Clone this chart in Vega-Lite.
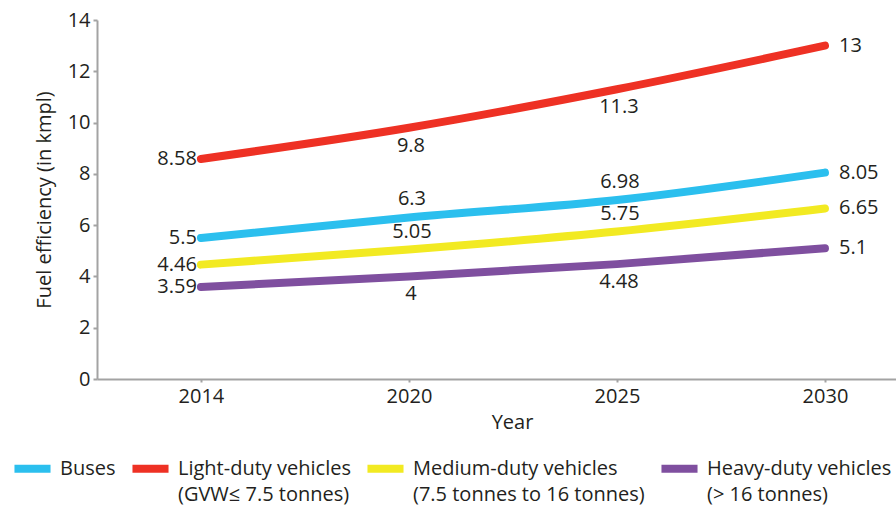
{
  "$schema": "https://vega.github.io/schema/vega-lite/v6.json",
  "width": 799,
  "height": 359,
  "autosize": {"type": "none"},
  "padding": {"left": 97, "top": 20, "right": 0, "bottom": 130},
  "background": "white",
  "config": {
    "view": {"stroke": null},
    "font": "Open Sans",
    "axis": {"grid": false, "domainColor": "#a3a3a3", "tickColor": "#a3a3a3", "domainWidth": 2, "tickWidth": 2, "tickSize": 4, "labelFontSize": 20, "titleFontSize": 20, "labelColor": "#231f20", "titleColor": "#231f20", "titleFontWeight": "normal", "labelFont": "Open Sans", "titleFont": "Open Sans"}
  },
  "data": {"values": [
    {"year": "2014", "series": "Buses", "value": 5.5},
    {"year": "2020", "series": "Buses", "value": 6.3},
    {"year": "2025", "series": "Buses", "value": 6.98},
    {"year": "2030", "series": "Buses", "value": 8.05},
    {"year": "2014", "series": "Light-duty vehicles (GVW≤ 7.5 tonnes)", "value": 8.58},
    {"year": "2020", "series": "Light-duty vehicles (GVW≤ 7.5 tonnes)", "value": 9.8},
    {"year": "2025", "series": "Light-duty vehicles (GVW≤ 7.5 tonnes)", "value": 11.3},
    {"year": "2030", "series": "Light-duty vehicles (GVW≤ 7.5 tonnes)", "value": 13},
    {"year": "2014", "series": "Medium-duty vehicles (7.5 tonnes to 16 tonnes)", "value": 4.46},
    {"year": "2020", "series": "Medium-duty vehicles (7.5 tonnes to 16 tonnes)", "value": 5.05},
    {"year": "2025", "series": "Medium-duty vehicles (7.5 tonnes to 16 tonnes)", "value": 5.75},
    {"year": "2030", "series": "Medium-duty vehicles (7.5 tonnes to 16 tonnes)", "value": 6.65},
    {"year": "2014", "series": "Heavy-duty vehicles (> 16 tonnes)", "value": 3.59},
    {"year": "2020", "series": "Heavy-duty vehicles (> 16 tonnes)", "value": 4},
    {"year": "2025", "series": "Heavy-duty vehicles (> 16 tonnes)", "value": 4.48},
    {"year": "2030", "series": "Heavy-duty vehicles (> 16 tonnes)", "value": 5.1}
  ]},
  "encoding": {
    "x": {"field": "year", "type": "ordinal", "scale": {"type": "point", "padding": 0.4206, "align": 0.594},
      "axis": {"labelAngle": 0, "title": "Year", "labelPadding": 4, "titlePadding": 6, "titleX": 415, "tickSize": 3}},
    "y": {"field": "value", "type": "quantitative", "scale": {"domain": [0, 14], "nice": false},
      "axis": {"values": [0, 2, 4, 6, 8, 10, 12, 14], "title": "Fuel efficiency (in kmpl)", "labelPadding": 3, "titlePadding": 13}}
  },
  "layer": [
    {
      "mark": {"type": "line", "interpolate": "monotone", "strokeWidth": 8, "strokeCap": "round", "strokeJoin": "round"},
      "encoding": {
        "color": {"field": "series", "type": "nominal",
          "scale": {"domain": ["Buses", "Light-duty vehicles (GVW≤ 7.5 tonnes)", "Medium-duty vehicles (7.5 tonnes to 16 tonnes)", "Heavy-duty vehicles (> 16 tonnes)"],
                    "range": ["#2bbfee", "#ee3124", "#f2ea22", "#7f4f9f"]},
          "legend": {"title": null, "orient": "none", "legendX": -87, "legendY": 426, "direction": "horizontal", "columns": 4,
            "symbolType": "stroke", "symbolStrokeWidth": 8, "symbolSize": 1300, "labelFontSize": 20, "labelColor": "#231f20", "labelFont": "Open Sans",
            "labelLimit": 400, "columnPadding": 0, "labelOffset": 5, "labelBaseline": "top",
            "labelExpr": "indexof(datum.label, ' (') > 0 ? [slice(datum.label, 0, indexof(datum.label, ' (')), slice(datum.label, indexof(datum.label, ' (') + 1)] : [datum.label, '']",
            "encode": {"labels": {"update": {"lineHeight": {"value": 26}, "dy": {"value": -10}}}}}
        }
      }
    },
    {
      "transform": [{"filter": "datum.year == '2014'"}],
      "mark": {"type": "text", "align": "right", "baseline": "middle", "dx": -4, "dy": 0, "fontSize": 20, "color": "#231f20"},
      "encoding": {"text": {"field": "value", "type": "quantitative"}}
    },
    {
      "transform": [{"filter": "datum.year == '2030'"}],
      "mark": {"type": "text", "align": "left", "baseline": "middle", "dx": 14, "dy": 0, "fontSize": 20, "color": "#231f20"},
      "encoding": {"text": {"field": "value", "type": "quantitative"}}
    },
    {
      "transform": [{"filter": "(datum.year == '2020' || datum.year == '2025') && (datum.series == 'Buses' || indexof(datum.series, 'Medium') == 0)"}],
      "mark": {"type": "text", "align": "center", "baseline": "middle", "dx": 3, "dy": -18, "fontSize": 20, "color": "#231f20"},
      "encoding": {"text": {"field": "value", "type": "quantitative"}}
    },
    {
      "transform": [{"filter": "(datum.year == '2020' || datum.year == '2025') && (indexof(datum.series, 'Light') == 0 || indexof(datum.series, 'Heavy') == 0)"}],
      "mark": {"type": "text", "align": "center", "baseline": "middle", "dx": 2, "dy": 18, "fontSize": 20, "color": "#231f20"},
      "encoding": {"text": {"field": "value", "type": "quantitative"}}
    }
  ]
}
